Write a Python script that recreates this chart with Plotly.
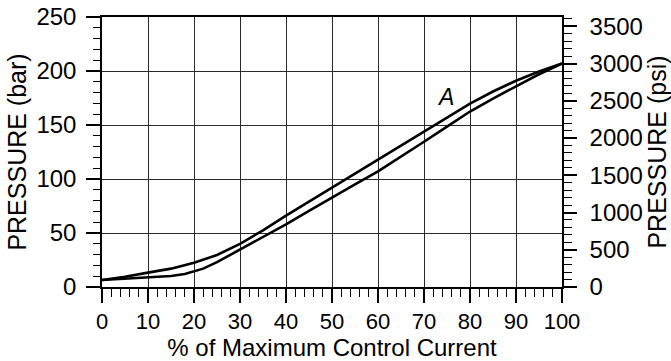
import plotly.graph_objects as go

# Data
current_pct = [0, 5, 10, 15, 20, 25, 30, 35, 40, 45, 50, 55, 60, 65, 70, 75, 80, 85, 90, 95, 100]
pressure_upper_bar = [6.5, 9.5, 13.3, 17, 22.5, 29.6, 40, 52.5, 66, 79, 92.3, 105, 117.6,
                      130.5, 143.8, 157, 169.8, 181, 191, 199.5, 207]
current_pct_low = [0, 5, 10, 15, 18, 20, 22, 25, 30, 35, 40, 45, 50, 55, 60, 65, 70, 75, 80,
                   85, 90, 95, 100]
pressure_lower_bar = [6.5, 7.8, 9, 10.2, 12, 14.5, 17, 23, 34.5, 46, 58, 70.5, 83, 95, 107,
                      120.5, 134.5, 148.5, 162.5, 174.5, 185.5, 197, 207]
BAR_TO_PSI = 14.5038
bar_range = [0, 250]
label_text = "A"
label_pos = (74.6, 176)

FONT = "Liberation Sans, Arial, sans-serif"
GRID = "#2a2a2a"

fig = go.Figure()
fig.add_trace(go.Scatter(x=current_pct, y=pressure_upper_bar, mode="lines",
                         line=dict(color="black", width=2.6), showlegend=False,
                         hoverinfo="skip"))
fig.add_trace(go.Scatter(x=current_pct_low, y=pressure_lower_bar, mode="lines",
                         line=dict(color="black", width=2.6), showlegend=False,
                         hoverinfo="skip"))
# invisible trace on psi axis so the right axis is drawn
fig.add_trace(go.Scatter(x=current_pct, y=[v * BAR_TO_PSI for v in pressure_upper_bar],
                         mode="lines", line=dict(width=0, color="rgba(0,0,0,0)"),
                         yaxis="y2", showlegend=False, hoverinfo="skip"))

fig.add_annotation(x=label_pos[0], y=label_pos[1], text="<i>" + label_text + "</i>",
                   showarrow=False, font=dict(family=FONT, size=23, color="black"))

fig.update_layout(
    width=671, height=361,
    margin=dict(l=102, r=109, t=17, b=74, autoexpand=False),
    paper_bgcolor="white", plot_bgcolor="white",
    font=dict(family=FONT, color="black"),
    xaxis=dict(range=[0, 100], dtick=10, tick0=0, showgrid=True, gridcolor=GRID,
               gridwidth=1.3, showline=True, linecolor="black", linewidth=1.5,
               mirror=True, ticks="outside", ticklen=14, tickwidth=1.5,
               tickcolor="black", tickfont=dict(size=22), zeroline=False,
               ticklabelstandoff=0,
               minor=dict(dtick=2, ticks="outside", ticklen=8, tickwidth=1.2,
                          tickcolor="black", showgrid=False),
               title=dict(text="% of Maximum Control Current", font=dict(size=24),
                          standoff=9)),
    yaxis=dict(range=bar_range, dtick=50, tick0=0, showgrid=True, gridcolor=GRID,
               gridwidth=1.3, showline=True, linecolor="black", linewidth=1.5,
               ticks="outside", ticklen=14, tickwidth=1.5, tickcolor="black",
               tickfont=dict(size=24), zeroline=False, ticklabelstandoff=5,
               minor=dict(dtick=10, ticks="outside", ticklen=7, tickwidth=1.2,
                          tickcolor="black", showgrid=False),
               title=dict(text="PRESSURE (bar)", font=dict(size=25), standoff=3)),
    yaxis2=dict(range=[bar_range[0] * BAR_TO_PSI, bar_range[1] * BAR_TO_PSI],
                overlaying="y", side="right", dtick=500, tick0=0, showgrid=False,
                showline=True, linecolor="black", linewidth=1.5, ticks="outside",
                ticklen=13, tickwidth=1.5, tickcolor="black", tickfont=dict(size=24),
                zeroline=False, ticklabelstandoff=8,
                minor=dict(dtick=100, ticks="outside", ticklen=8, tickwidth=1.2,
                           tickcolor="black", showgrid=False),
                title=dict(text="PRESSURE (psi)", font=dict(size=25), standoff=8)),
)

fig.write_html("out.html")
